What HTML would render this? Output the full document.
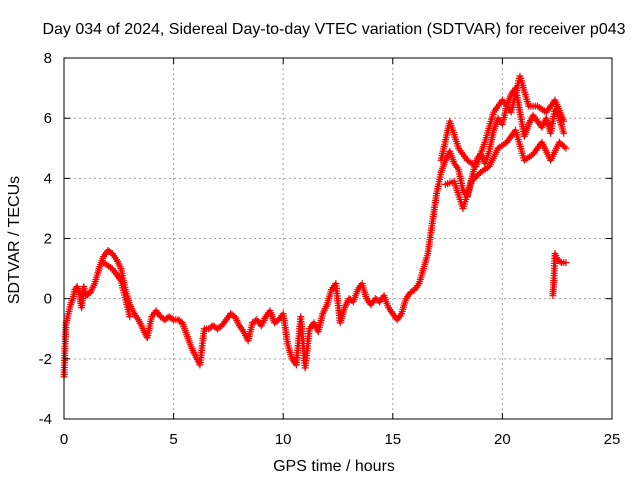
<!DOCTYPE html>
<html><head><meta charset="utf-8"><style>
body{margin:0;background:#fff;}
svg{display:block;font-family:"Liberation Sans",sans-serif;}
</style></head><body>
<svg id="chart" width="640" height="480">
<g id="grid"></g>
<g id="series"></g>
<rect x="64" y="58" width="548" height="361" fill="none" stroke="#000" stroke-width="1"/>
<g id="ticks"></g>
<text x="334" y="34" font-size="16" text-anchor="middle">Day 034 of 2024, Sidereal Day-to-day VTEC variation (SDTVAR) for receiver p043</text>
<text x="334" y="471" font-size="16" text-anchor="middle">GPS time / hours</text>
<text transform="translate(19,240) rotate(-90)" font-size="16" text-anchor="middle">SDTVAR / TECUs</text>
</svg>
<script>
const xTicks=[0,5,10,15,20,25];
const yTicks=[-4,-2,0,2,4,6,8];
const mainT=[0.0,0.05,0.1,0.2,0.3,0.4,0.5,0.6,0.7,0.8,0.9,1.0,1.2,1.4,1.6,1.8,2.0,2.2,2.4,2.6,2.8,3.0,3.2,3.4,3.6,3.8,4.0,4.2,4.4,4.6,4.8,5.0,5.2,5.4,5.6,5.8,6.0,6.2,6.4,6.6,6.8,7.0,7.2,7.4,7.6,7.8,8.0,8.2,8.4,8.6,8.8,9.0,9.2,9.4,9.6,9.8,10.0,10.2,10.4,10.6,10.8,11.0,11.2,11.4,11.6,11.8,12.0,12.2,12.4,12.6,12.8,13.0,13.2,13.4,13.6,13.8,14.0,14.2,14.4,14.6,14.8,15.0,15.2,15.4,15.6,15.8,16.0,16.2,16.4,16.6,16.8,17.0,17.2,17.4,17.6,17.8,18.0,18.2,18.4,18.6,18.8,19.0,19.2,19.4,19.6,19.8,20.0,20.2,20.4,20.6,20.8,21.0,21.2,21.4,21.6,21.8,22.0,22.2,22.4,22.6,22.8];
const mainV=[-2.6,-1.5,-0.8,-0.5,-0.2,0.0,0.3,0.4,0.2,-0.3,0.4,0.1,0.2,0.5,1.0,1.4,1.6,1.5,1.3,1.0,0.3,-0.2,-0.5,-0.7,-1.0,-1.3,-0.6,-0.4,-0.6,-0.7,-0.6,-0.7,-0.7,-0.8,-1.2,-1.6,-1.9,-2.2,-1.0,-1.0,-0.9,-1.0,-0.9,-0.7,-0.5,-0.6,-0.9,-1.1,-1.4,-0.8,-0.7,-0.9,-0.6,-0.4,-0.8,-0.7,-0.5,-1.5,-2.0,-2.2,-0.6,-2.3,-1.0,-0.8,-1.1,-0.5,-0.2,0.3,0.5,-0.8,-0.3,0.0,-0.1,0.3,0.5,0.0,-0.2,0.0,-0.1,0.1,-0.3,-0.5,-0.7,-0.5,0.0,0.2,0.3,0.5,1.0,1.5,2.5,3.5,4.2,4.6,4.9,4.5,4.3,3.6,3.4,4.0,4.6,4.8,4.5,4.9,5.6,6.0,5.8,6.4,6.8,7.0,6.2,5.4,5.8,6.1,5.9,5.7,6.0,5.5,6.3,6.0,5.5];
const upperT=[1.8,2.2,2.6,3.0,17.2,17.6,18.0,18.4,18.8,19.2,19.6,20.0,20.4,20.8,21.2,21.6,22.0,22.4,22.8];
const upperV=[1.2,1.0,0.6,-0.6,4.6,5.9,5.0,4.6,4.4,5.2,6.2,6.6,6.2,7.4,6.4,6.4,6.2,6.6,5.9];
const lowerT=[17.4,17.8,18.2,18.6,19.0,19.4,19.8,20.2,20.6,21.0,21.4,21.8,22.2,22.6,22.9];
const lowerV=[3.8,3.9,3.0,3.9,4.2,4.4,5.0,5.2,5.6,4.6,4.8,5.2,4.6,5.2,5.0];
const tailT=[22.3,22.35,22.4,22.5,22.7,22.9];
const tailV=[0.1,0.6,1.5,1.3,1.2,1.2];
const X=t=>64+t*21.92;
const Y=v=>419-(v+4)*30.08;
const NS='http://www.w3.org/2000/svg';
const grid=document.getElementById('grid'),ticks=document.getElementById('ticks'),ser=document.getElementById('series');
function mk(tag,attrs,parent){const e=document.createElementNS(NS,tag);for(const k in attrs)e.setAttribute(k,attrs[k]);parent.appendChild(e);return e;}
xTicks.forEach(t=>{const x=X(t);
 if(t>0&&t<25){const g=mk('line',{x1:x,x2:x,y1:58,y2:419,stroke:'#a0a0a0','stroke-dasharray':'2,3'},grid);
 
 }
 mk('line',{x1:x,x2:x,y1:419,y2:413,stroke:'#000'},ticks);mk('line',{x1:x,x2:x,y1:58,y2:64,stroke:'#000'},ticks);
 const l=mk('text',{x:x,y:444,'font-size':15,'text-anchor':'middle'},ticks);l.textContent=t;
 
 });
yTicks.forEach(v=>{const y=Y(v);
 if(v>-4&&v<8){const g=mk('line',{x1:64,x2:612,y1:y,y2:y,stroke:'#a0a0a0','stroke-dasharray':'2,3'},grid);
 
 }
 mk('line',{x1:64,x2:70,y1:y,y2:y,stroke:'#000'},ticks);mk('line',{x1:612,x2:606,y1:y,y2:y,stroke:'#000'},ticks);
 const l=mk('text',{x:52,y:y+5,'font-size':15,'text-anchor':'end'},ticks);l.textContent=v;
 
 });
function drawSeg(T,V,name){
 const pts=T.map((t,i)=>X(t)+','+Y(V[i])).join(' ');
 const pl=mk('polyline',{points:pts,fill:'none',stroke:'#f00','stroke-width':3,'stroke-linejoin':'round'},ser);
 
 
 let d='';
 for(let i=0;i<T.length-1;i++){const x0=X(T[i]),y0=Y(V[i]),x1=X(T[i+1]),y1=Y(V[i+1]);
  const n=Math.max(1,Math.ceil(Math.hypot(x1-x0,y1-y0)/2.5));
  for(let k=0;k<n;k++){const x=x0+(x1-x0)*k/n,y=y0+(y1-y0)*k/n;d+=`M${x-3.5},${y}h7M${x},${y-3.5}v7`;}}
 const x=X(T[T.length-1]),y=Y(V[V.length-1]);d+=`M${x-3.5},${y}h7M${x},${y-3.5}v7`;
 const p=mk('path',{d:d,stroke:'#f00','stroke-width':1.2,fill:'none'},ser);
 
 }
drawSeg(mainT,mainV,'main-series');
drawSeg(upperT.slice(0,4),upperV.slice(0,4),'upper-band-early');
drawSeg(upperT.slice(4),upperV.slice(4),'upper-band');
drawSeg(lowerT,lowerV,'lower-band');
drawSeg(tailT,tailV,'tail-segment');
</script>
</body></html>
